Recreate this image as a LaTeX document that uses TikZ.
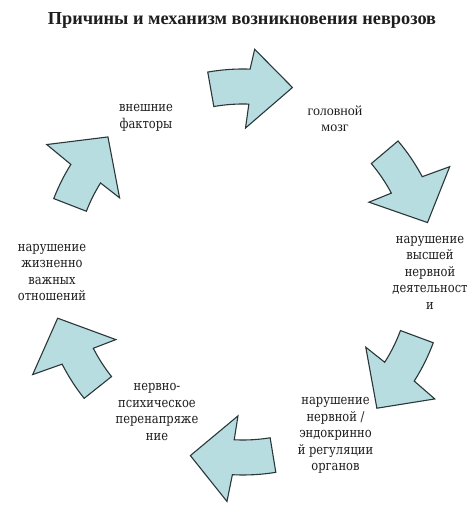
\documentclass[tikz,border=0pt]{standalone}
\usepackage{fontspec}
\setmainfont{DejaVu Serif}
\newfontfamily\titlefont{Liberation Serif}
\newfontfamily\labelfont[FakeStretch=0.85]{DejaVu Serif}

\definecolor{arrowfill}{RGB}{183,221,224}
\definecolor{arrowline}{RGB}{42,54,56}
\definecolor{labelgray}{RGB}{30,30,30}

\tikzset{
    cyclearrow/.style={fill=arrowfill, draw=arrowline, line width=1.1pt, line join=miter},
    factor/.style={align=center, text=labelgray, inner sep=0pt,
        font=\labelfont\fontsize{13.5}{16.5}\selectfont},
}

\begin{document}
\begin{tikzpicture}[x=1pt,y=1pt]
    \useasboundingbox (0,0) rectangle (474,521);
    \node[text=labelgray, font=\titlefont\bfseries\fontsize{18.3}{22}\selectfont] (title) at (242,501)
        {Причины и механизм возникновения неврозов};

    \begin{scope}[shift={(243pt,249pt)}]
        \coordinate (C) at (0,0);
        \foreach \b/\h/\t in {88/223/12, 28/232/12.2, -32.5/230/12.1, -93/230/12.3, -153/234/11.5, 148/234/10.8} {
            \draw[cyclearrow] (\b+\t:203pt) arc[start angle=\b+\t, end angle=\b, radius=203pt]
                -- (\b-1:\h pt) -- (\b-13:191pt) -- (\b+1:144pt) -- (\b:168pt)
                arc[start angle=\b, end angle=\b+\t, radius=168pt] -- cycle;
        }
    \end{scope}

    \node[factor] (external) at (146,403) {внешние\\факторы};
    \node[factor, font=\titlefont\fontsize{14}{16.5}\selectfont] (brain) at (335,402) {головной\\мозг};
    \node[factor] (highernerv) at (430,248.5) {нарушение\\высшей\\нервной\\деятельност\\и};
    \node[factor] (regulation) at (335.5,85.5) {нарушение\\нервной /\\эндокринно\\й регуляции\\органов};
    \node[factor] (overstrain) at (157,109) {нервно-\\психическое\\перенапряже\\ние};
    \node[factor] (relations) at (52,248.5) {нарушение\\жизненно\\важных\\отношений};
\end{tikzpicture}
\end{document}
